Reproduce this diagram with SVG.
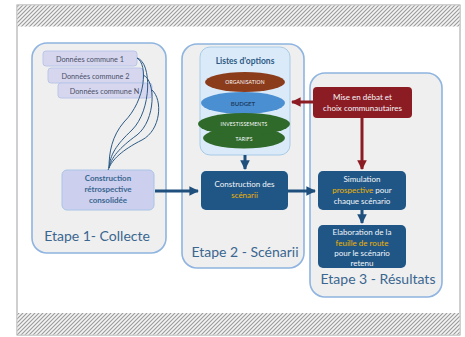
<svg xmlns="http://www.w3.org/2000/svg" width="465" height="337" viewBox="0 0 465 337">
<defs>
<pattern id="hatch" patternUnits="userSpaceOnUse" width="4" height="4">
<rect width="4" height="4" fill="#f4f4f4"/>
<path d="M-1,1 L1,-1 M0,4 L4,0 M3,5 L5,3" stroke="#9a9a9a" stroke-width="1.1"/>
</pattern>
<marker id="ab" viewBox="0 0 10 10" refX="9" refY="5" markerWidth="3.2" markerHeight="3.2" orient="auto" markerUnits="strokeWidth">
<path d="M0,0 L10,5 L0,10 z" fill="#1f4f7c"/>
</marker>
<marker id="ar" viewBox="0 0 10 10" refX="9" refY="5" markerWidth="3.2" markerHeight="3.2" orient="auto" markerUnits="strokeWidth">
<path d="M0,0 L10,5 L0,10 z" fill="#8c1c24"/>
</marker>
<style>
text{font-family:Lato,"Open Sans","Liberation Sans",sans-serif;}
.stage{fill:#efefef;stroke:#8fb4e0;stroke-width:1.6;}
.stitle{font-size:14px;fill:#3a6690;}
.don{fill:#d6d7ef;stroke:#b9c6e8;stroke-width:1;}
.dtx{font-size:7.3px;fill:#4a5068;text-anchor:middle;}
.dark{fill:#1f5686;}
.wt{font-size:8px;fill:#f4f6fa;text-anchor:middle;}
.or{fill:#f0b400;}
.ell{font-size:5px;fill:#ffffff;text-anchor:middle;letter-spacing:0.2px;}
.curve{fill:none;stroke:#2c5a85;stroke-width:1;}
.ba{stroke:#1f4f7c;stroke-width:3;fill:none;}
.ra{stroke:#8c1c24;stroke-width:3;fill:none;}
</style>
</defs>
<rect width="465" height="337" fill="#ffffff"/>
<g id="frame">
<rect x="17" y="5" width="443" height="330" fill="#ffffff" stroke="#a0a0a0" stroke-width="1"/>
<rect x="17.5" y="5.5" width="442" height="21" fill="url(#hatch)"/>
<rect x="17.5" y="313" width="442" height="21.5" fill="url(#hatch)"/>
</g>
<g id="etape1">
<rect class="stage" x="32" y="43" width="134" height="210" rx="15"/>
<text class="stitle" x="97" y="241" text-anchor="middle">Etape 1- Collecte</text>
</g>
<g id="etape2">
<rect class="stage" x="182" y="44" width="122" height="224" rx="15"/>
<text class="stitle" x="245" y="257" text-anchor="middle">Etape 2 - Scénarii</text>
</g>
<g id="etape3">
<rect class="stage" x="310" y="73" width="132" height="224" rx="15"/>
<text class="stitle" x="378" y="284" text-anchor="middle">Etape 3 - Résultats</text>
</g>
<g id="donnees1">
<rect class="don" x="43" y="51" width="94" height="15" rx="3"/>
<text class="dtx" x="90" y="61.5">Données commune 1</text>
</g>
<g id="donnees2">
<rect class="don" x="48" y="68" width="95" height="15" rx="3"/>
<text class="dtx" x="95.5" y="78.5">Données commune 2</text>
</g>
<g id="donneesN">
<rect class="don" x="58" y="83" width="94" height="15" rx="3"/>
<text class="dtx" x="104.5" y="93.5">Données commune N</text>
</g>
<g id="construction-retro">
<rect x="62" y="170" width="92" height="40" rx="5" fill="#ccd0ee" stroke="#a9c4e6" stroke-width="1"/>
<text font-size="8" font-weight="bold" fill="#3a6690" text-anchor="middle"><tspan x="108" y="181">Construction</tspan><tspan x="108" y="192">rétrospective</tspan><tspan x="108" y="203">consolidée</tspan></text>
</g>
<g id="listes-options">
<rect x="200" y="47" width="90" height="108" rx="10" fill="#dbeaf8" stroke="#a8cbe8" stroke-width="1"/>
<text x="245" y="64" font-size="8.5" font-weight="bold" fill="#2c5a85" text-anchor="middle">Listes d'options</text>
<ellipse cx="245" cy="82" rx="40" ry="10" fill="#8b3c1b"/>
<text class="ell" x="245" y="84">ORGANISATION</text>
<ellipse cx="243" cy="103" rx="42" ry="11" fill="#4a8fd2"/>
<text x="243" y="105.5" font-size="6" font-weight="bold" fill="#1f3f66" text-anchor="middle">BUDGET</text>
<ellipse cx="244" cy="138" rx="41" ry="10.5" fill="#2f6a2b"/>
<ellipse cx="244" cy="124" rx="46" ry="11" fill="#2f6a2b"/>
<text class="ell" x="244" y="126">INVESTISSEMENTS</text>
<text class="ell" x="244" y="141">TARIFS</text>
</g>
<g id="construction-scenarii">
<rect class="dark" x="201" y="171" width="87" height="39" rx="5"/>
<text class="wt"><tspan x="244.5" y="187">Construction des</tspan><tspan x="244.5" y="198" class="or">scénarii</tspan></text>
</g>
<g id="mise-en-debat">
<rect x="313" y="87" width="99" height="31" rx="4" fill="#8c1c24"/>
<text class="wt"><tspan x="362.5" y="100">Mise en débat et</tspan><tspan x="362.5" y="110.5">choix communautaires</tspan></text>
</g>
<g id="simulation">
<rect class="dark" x="318" y="171" width="88" height="39" rx="5"/>
<text class="wt"><tspan x="362" y="181.5">Simulation</tspan><tspan x="362" y="192.5"><tspan class="or">prospective</tspan> pour</tspan><tspan x="362" y="203.5">chaque scénario</tspan></text>
</g>
<g id="elaboration">
<rect class="dark" x="318" y="225" width="88" height="43" rx="5"/>
<text class="wt"><tspan x="362" y="235">Elaboration de la</tspan><tspan x="362" y="245.5" class="or">feuille de route</tspan><tspan x="362" y="256">pour le scénario</tspan><tspan x="362" y="266">retenu</tspan></text>
</g>
<g id="connectors">
<path class="curve" d="M137,58 C148,64 146,100 124,122 C112,136 109,152 109,168"/>
<path class="curve" d="M137,58 C152,62 152,110 132,130 C116,145 110,155 109,168"/>
<path class="curve" d="M143,75 C156,80 156,120 137,135 C119,148 111,158 109,168"/>
<path class="curve" d="M152,90 C163,100 161,130 142,140 C122,150 112,160 109,168"/>
<path class="curve" d="M109,168 L108,170"/>
<path class="ba" d="M155,191 L198,191" marker-end="url(#ab)"/>
<path class="ba" d="M288,191 L315,191" marker-end="url(#ab)"/>
<path class="ba" d="M245,155 L245,169" marker-end="url(#ab)"/>
<path class="ba" d="M362,210 L362,223" marker-end="url(#ab)"/>
<path class="ra" d="M313,102 L292,102" marker-end="url(#ar)"/>
<path class="ra" d="M362,118 L362,169" marker-end="url(#ar)"/>
</g>
</svg>
